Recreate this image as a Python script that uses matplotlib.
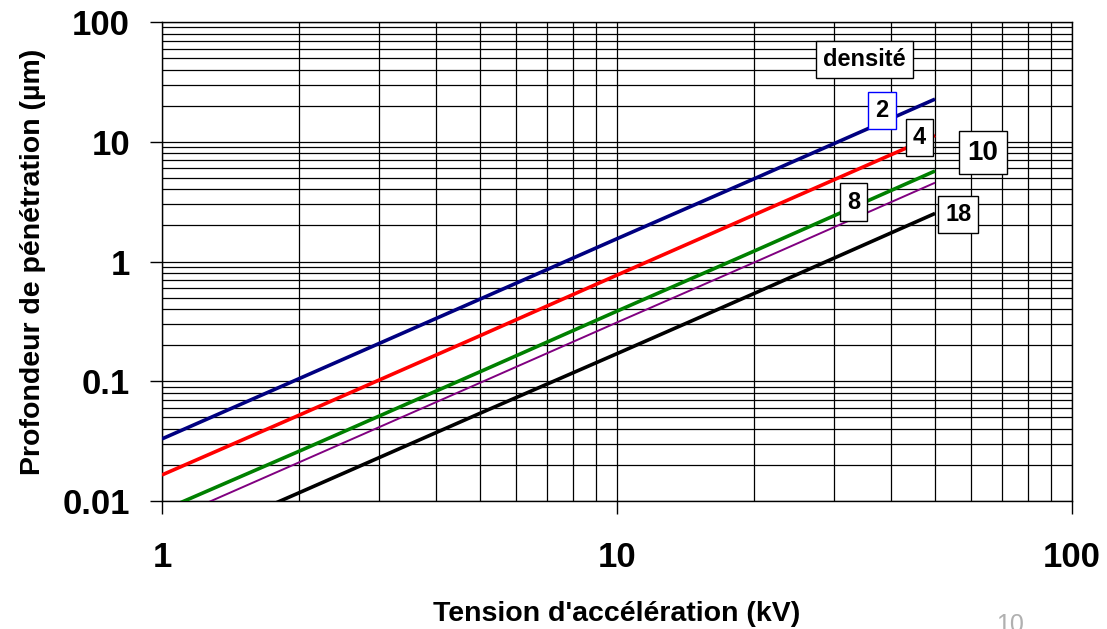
import matplotlib
matplotlib.use("Agg")
import matplotlib.pyplot as plt
from matplotlib.ticker import LogLocator, NullFormatter, FixedLocator

plt.rcParams['font.family'] = ['Liberation Sans', 'DejaVu Sans']
plt.rcParams['font.weight'] = 'bold'

# tension d'acceleration (kV) where the curves were read
tension = [1, 2, 5, 10, 20, 50]

# profondeur de penetration (um) read for each density
d2 = [0.033, 0.105, 0.485, 1.55, 4.9, 22.7]
d4 = [0.0165, 0.052, 0.24, 0.77, 2.45, 11.3]
d8 = [0.0083, 0.026, 0.12, 0.385, 1.22, 5.7]
d10 = [0.0066, 0.021, 0.097, 0.31, 0.98, 4.55]
d18 = [0.0037, 0.0117, 0.054, 0.17, 0.54, 2.52]

densites = ['2', '4', '8', '10', '18']
series = [d2, d4, d8, d10, d18]
colors = ['#000080', '#ff0000', '#008000', '#800080', '#000000']
widths = [2.6, 2.6, 2.6, 1.4, 2.6]

fig = plt.figure(figsize=(11.07, 6.29), dpi=100)
ax = fig.add_axes([0.1463, 0.2035, 0.8221, 0.7615])

for vals, c, w in zip(series, colors, widths):
    ax.plot(tension, vals, color=c, lw=w, solid_capstyle='butt', zorder=3)

ax.set_xscale('log')
ax.set_yscale('log')
ax.set_xlim(1, 100)
ax.set_ylim(0.01, 100)

ax.xaxis.set_major_locator(FixedLocator([1, 10, 100]))
ax.yaxis.set_major_locator(FixedLocator([0.01, 0.1, 1, 10, 100]))
ax.set_xticklabels(['1', '10', '100'])
ax.set_yticklabels(['0.01', '0.1', '1', '10', '100'])
ax.xaxis.set_minor_locator(LogLocator(base=10, subs=range(2, 10)))
ax.yaxis.set_minor_locator(LogLocator(base=10, subs=range(2, 10)))
ax.xaxis.set_minor_formatter(NullFormatter())
ax.yaxis.set_minor_formatter(NullFormatter())

ax.grid(True, which='both', color='black', lw=0.9)
ax.tick_params(which='minor', length=0)
ax.tick_params(axis='y', which='major', length=9, width=1, pad=14, labelsize=25)
ax.tick_params(axis='x', which='major', length=9, width=1, pad=20, labelsize=25)
for s in ax.spines.values():
    s.set_linewidth(1)

ax.set_xlabel("Tension d'accélération (kV)", fontsize=20.5, fontweight='bold', labelpad=19)
ax.set_ylabel("Profondeur de pénétration (µm)", fontsize=20.5, fontweight='bold', labelpad=12)

# label boxes
label_pos = {'densité': (35.0, 48.6), '2': (38.2, 18.2), '4': (46.2, 10.85),
             '10': (63.7, 8.13), '8': (33.1, 3.14), '18': (56.2, 2.47)}
for txt, (x, y) in label_pos.items():
    edge = '#0000ff' if txt == '2' else 'black'
    size = 20 if txt == '10' else 17
    ax.text(x, y, txt, ha='center', va='center', fontsize=size, fontweight='bold',
            zorder=5, bbox=dict(boxstyle='square,pad=0.3', fc='white', ec=edge, lw=1))

fig.text(0.912, -0.012, '10', color='#b0b0b0', fontsize=18, fontweight='normal',
         ha='center', va='bottom')

fig.savefig('out.png', dpi=100)
